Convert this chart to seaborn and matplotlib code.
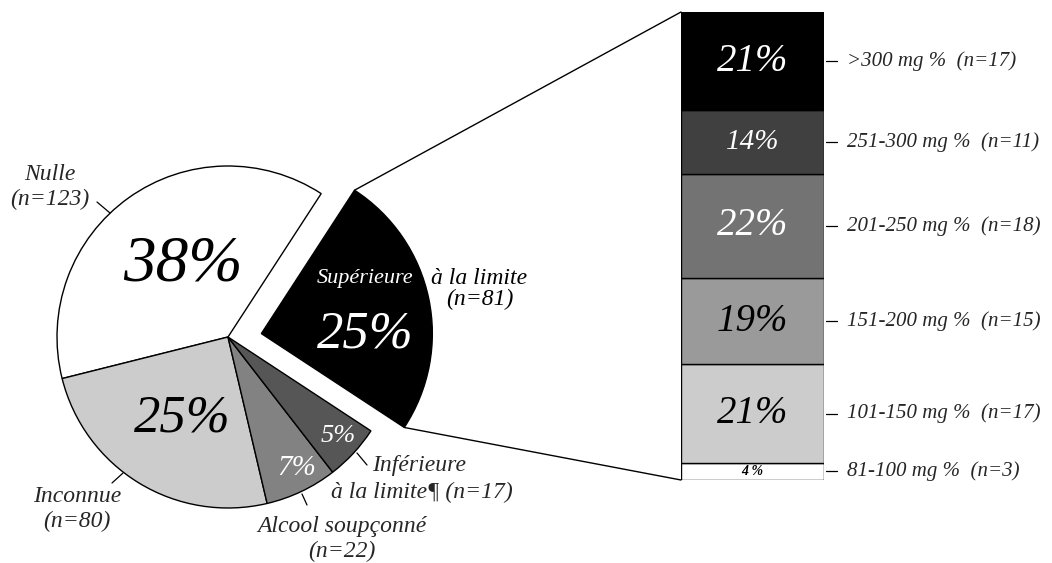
import matplotlib
matplotlib.use("Agg")
import matplotlib.pyplot as plt
import seaborn as sns
import numpy as np
from matplotlib.patches import ConnectionPatch

# ---- data ----
pie_names = ["Supérieure à la limite", "Nulle", "Inconnue", "Alcool soupçonné", "Inférieure à la limite¶"]
pie_counts = [81, 123, 80, 22, 17]
pie_pct = ["25%", "38%", "25%", "7%", "5%"]
pie_colors = ["#000000", "#ffffff", "#cccccc", "#828282", "#565656"]

bar_names = ["81-100 mg %", "101-150 mg %", "151-200 mg %", "201-250 mg %", "251-300 mg %", ">300 mg %"]
bar_counts = [3, 17, 15, 18, 11, 17]
bar_pct = ["4 %", "21%", "19%", "22%", "14%", "21%"]
bar_colors = ["#ffffff", "#cccccc", "#9a9a9a", "#737373", "#404040", "#000000"]
bar_text_colors = ["black", "black", "black", "white", "white", "white"]
bar_pct_sizes = [10, 28, 28, 28, 21, 28]

sns.set_theme(style="white")
plt.rcParams['font.family'] = ['Liberation Serif', 'DejaVu Serif']
plt.rcParams['font.style'] = 'italic'

W, H = 1052, 563
fig = plt.figure(figsize=(W / 100, H / 100), dpi=100)
fig.patch.set_facecolor("white")

# pie axes: 1 data unit = R pixels, centre at (CX, CY) in pixel coords (y from top)
CX, CY, R = 228, 337, 171
axp = fig.add_axes([0, 0, 1, 1])
axp.patch.set_alpha(0)
wedges, _ = axp.pie(pie_counts, colors=pie_colors, startangle=-33.3, counterclock=True,
                    radius=1, wedgeprops=dict(edgecolor="black", linewidth=1.0))
wedges[0].set_center((0.195, 0.02))
axp.set_xlim(-CX / R, (W - CX) / R)
axp.set_ylim(-(H - CY) / R, CY / R)
axp.axis("off")


def P(px, py):
    return ((px - CX) / R, (CY - py) / R)


txt = dict(style="italic", ha="center", va="center")
# percentages in the pie
axp.text(*P(183, 265), pie_pct[1], fontsize=47, color="black", **txt)
axp.text(*P(182, 419), pie_pct[2], fontsize=38, color="black", **txt)
axp.text(*P(365, 334), pie_pct[0], fontsize=38, color="white", **txt)
axp.text(*P(297, 468), pie_pct[3], fontsize=21, color="white", **txt)
axp.text(*P(338, 436), pie_pct[4], fontsize=19, color="white", **txt)

# category labels
LS = 17
axp.text(*P(365, 279), "Supérieure", fontsize=16, color="white", **txt)
axp.text(*P(431, 279), "à la limite", fontsize=LS, color="black", style="italic", ha="left", va="center")
axp.text(*P(480, 299), f"(n={pie_counts[0]})", fontsize=LS, color="black", **txt)
axp.text(*P(50, 187), f"Nulle\n(n={pie_counts[1]})", fontsize=LS, linespacing=1.2, **txt)
axp.text(*P(77, 509), f"Inconnue\n(n={pie_counts[2]})", fontsize=LS, linespacing=1.2, **txt)
axp.text(*P(342, 539), f"Alcool soupçonné\n(n={pie_counts[3]})", fontsize=LS, linespacing=1.2, **txt)
axp.text(*P(372, 465), "Inférieure", fontsize=LS, style="italic", ha="left", va="center")
axp.text(*P(422, 492), f"à la limite¶ (n={pie_counts[4]})", fontsize=LS, **txt)

# leader lines for pie labels
for (x1, y1), (x2, y2) in [((97, 202), (110, 213)), ((112, 483), (123, 473)),
                           ((302, 494), (307, 505)), ((357, 453), (367, 465))]:
    axp.plot([P(x1, y1)[0], P(x2, y2)[0]], [P(x1, y1)[1], P(x2, y2)[1]], color="black", lw=0.9)

# ---- stacked bar ----
BL, BR, BT, BB = 681, 824, 12, 480
axb = fig.add_axes([BL / W, (H - BB) / H, (BR - BL) / W, (BB - BT) / H])
bottoms = np.concatenate([[0], np.cumsum(bar_counts)[:-1]])
axb.bar(0, bar_counts, bottom=bottoms, width=1.0, color=bar_colors,
        edgecolor="black", linewidth=1.0, align="center")
axb.set_xlim(-0.5, 0.5)
axb.set_ylim(0, sum(bar_counts))
axb.axis("off")
for name, n, b, pct, tc, fs in zip(bar_names, bar_counts, bottoms, bar_pct, bar_text_colors, bar_pct_sizes):
    yc = b + n / 2
    axb.text(0, yc, pct, color=tc, fontsize=fs, style="italic", ha="center", va="center",
             fontweight="bold" if fs < 12 else "normal")
    axb.plot([0.515, 0.59], [yc, yc], color="black", lw=0.9, clip_on=False)
    axb.text(0.66, yc, f"{name}  (n={n})", fontsize=15, style="italic", ha="left", va="center")

# connection lines between exploded wedge and bar
w = wedges[0]
cx0, cy0 = w.center
t1, t2 = np.deg2rad(w.theta1), np.deg2rad(w.theta2)
top_pt = (cx0 + w.r * np.cos(t2), cy0 + w.r * np.sin(t2))
bot_pt = (cx0 + w.r * np.cos(t1), cy0 + w.r * np.sin(t1))
for pt, ybar in [(top_pt, sum(bar_counts)), (bot_pt, 0)]:
    con = ConnectionPatch(xyA=pt, coordsA=axp.transData, xyB=(-0.5, ybar), coordsB=axb.transData,
                          color="black", lw=1.0)
    fig.add_artist(con)

fig.savefig("out.png", dpi=100, facecolor="white")
